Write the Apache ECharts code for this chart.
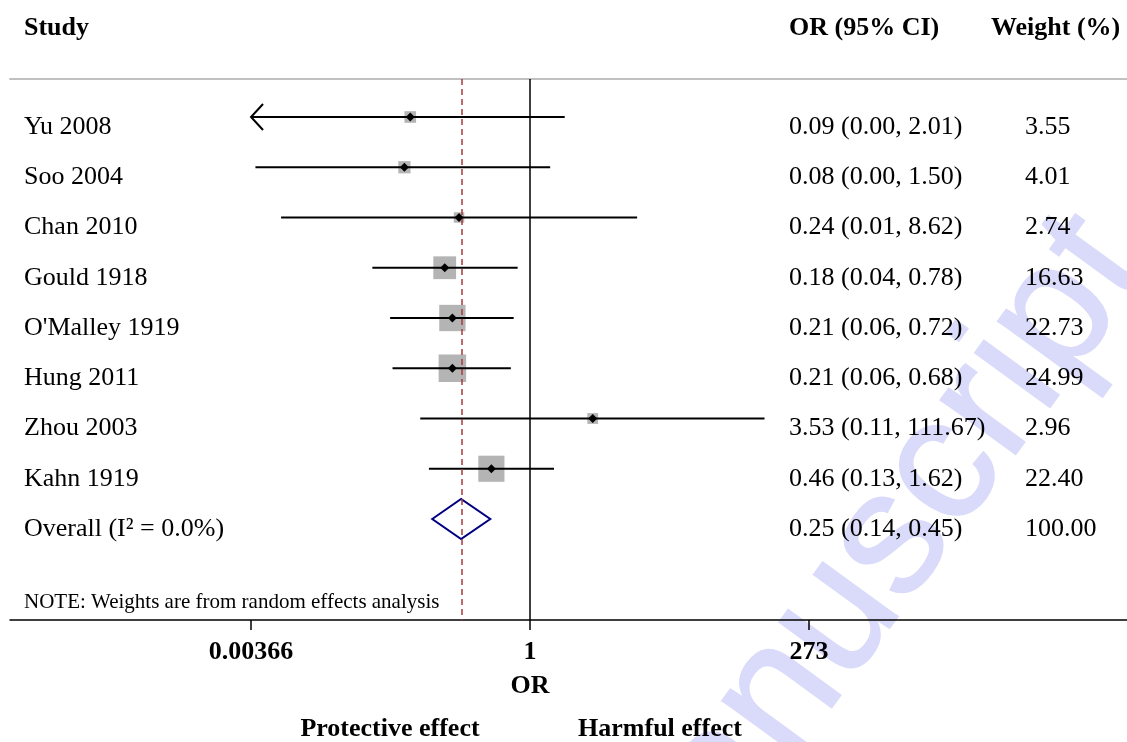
<!DOCTYPE html>
<html><head><meta charset="utf-8">
<script src="https://cdn.jsdelivr.net/npm/echarts@6/dist/echarts.min.js"></script>
<style>html,body{margin:0;padding:0;background:#fff}#c{width:1127px;height:742px}</style>
</head><body><div id="c"></div>
<script>
// ---- data ----
const studies   = ['Yu 2008','Soo 2004','Chan 2010','Gould 1918',"O'Malley 1919",'Hung 2011','Zhou 2003','Kahn 1919'];
const orValues  = [0.09, 0.08, 0.24, 0.18, 0.21, 0.21, 3.53, 0.46];
const ciLower   = [0.002, 0.0040, 0.0067, 0.042, 0.06, 0.063, 0.11, 0.131];
const ciUpper   = [2.01, 1.50, 8.62, 0.78, 0.72, 0.68, 111.67, 1.62];
const weights   = [3.55, 4.01, 2.74, 16.63, 22.73, 24.99, 2.96, 22.40];
const overallLabel  = 'Overall (I² = 0.0%)';
const overallOR     = [0.25];
const overallCI     = [0.14, 0.45];
const overallWeight = [100.00];
const tickValues = [0.00366, 1, 273];
const tickLabels = ['0.00366', '1', '273'];

// ---- helpers ----
const L = Math.log10;
const fmt = v => v.toFixed(2);
const SERIF = '"Liberation Serif","Times New Roman",Times,serif';
const overallRow = studies.length;
const axisMinLog = L(tickValues[0]);

const studyData = studies.map((s, i) => [i, L(orValues[i]), L(ciLower[i]), L(ciUpper[i]), weights[i]]);
const overallData = [[overallRow, L(overallOR[0]), L(overallCI[0]), L(overallCI[1])]];
const labelRows = studies.concat([overallLabel]);
const orTexts = studies.map((s, i) => `${fmt(orValues[i])} (${fmt(ciLower[i])}, ${fmt(ciUpper[i])})`)
  .concat([`${fmt(overallOR[0])} (${fmt(overallCI[0])}, ${fmt(overallCI[1])})`]);
const wTexts = weights.map(fmt).concat([fmt(overallWeight[0])]);
const rowIdx = labelRows.map((s, i) => [0, i]);

function renderStudy(params, api) {
  const row = api.value(0), est = api.value(1), lo = api.value(2), hi = api.value(3), w = api.value(4);
  const loC = Math.max(lo, axisMinLog);
  const pLo = api.coord([loC, row]), pHi = api.coord([hi, row]), pE = api.coord([est, row]);
  const side = 2 + 5.1 * Math.sqrt(w);
  const ch = [];
  ch.push({type: 'rect', shape: {x: pE[0] - side / 2, y: pE[1] - side / 2, width: side, height: side}, style: {fill: '#b4b4b4'}});
  ch.push({type: 'line', shape: {x1: pLo[0], y1: pLo[1], x2: pHi[0], y2: pHi[1]}, style: {stroke: '#000', lineWidth: 2}});
  if (lo < loC) {
    ch.push({type: 'polyline', shape: {points: [[pLo[0] + 12, pLo[1] - 13], [pLo[0], pLo[1]], [pLo[0] + 12, pLo[1] + 13]]},
      style: {stroke: '#000', lineWidth: 2, fill: null}});
  }
  const d = 4.5;
  ch.push({type: 'polygon', shape: {points: [[pE[0] - d, pE[1]], [pE[0], pE[1] - d], [pE[0] + d, pE[1]], [pE[0], pE[1] + d]]}, style: {fill: '#000'}});
  return {type: 'group', children: ch};
}
function renderOverall(params, api) {
  const row = api.value(0), est = api.value(1), lo = api.value(2), hi = api.value(3);
  const pLo = api.coord([lo, row]), pHi = api.coord([hi, row]), pE = api.coord([est, row]);
  const h = 20;
  return {type: 'polygon', shape: {points: [[pLo[0], pLo[1]], [pE[0], pE[1] - h], [pHi[0], pHi[1]], [pE[0], pE[1] + h]]},
    style: {stroke: '#000080', lineWidth: 2, fill: null}};
}
function textRenderer(texts, xPix) {
  return function (params, api) {
    const p = api.coord([0, api.value(1)]);
    return {type: 'text', x: xPix, y: p[1] + 10,
      style: {text: texts[params.dataIndex], font: '26px ' + SERIF, fill: '#000', align: 'left', verticalAlign: 'middle'}};
  };
}

const chart = echarts.init(document.getElementById('c'), null, {renderer: 'canvas'});
const tickLog = tickValues.map(L);
const option = {
  animation: false,
  backgroundColor: '#fff',
  grid: {left: 10, right: 0, top: 79, bottom: 122, containLabel: false},
  xAxis: [{
    type: 'value', min: -4.5415, max: 5.214, position: 'bottom',
    axisLine: {show: true, onZero: false, lineStyle: {color: '#000', width: 1.5}},
    axisTick: {show: true, customValues: tickLog, length: 10, inside: false, lineStyle: {color: '#000', width: 1.5}},
    axisLabel: {show: true, customValues: tickLog, margin: 19, color: '#000', fontFamily: SERIF, fontWeight: 'bold', fontSize: 26,
      formatter: v => { const k = tickLog.findIndex(t => Math.abs(t - v) < 1e-6); return k >= 0 ? tickLabels[k] : ''; }},
    splitLine: {show: false}
  }, {
    type: 'value', min: -4.5415, max: 5.214, position: 'top',
    axisLine: {show: true, onZero: false, lineStyle: {color: '#c0c0c0', width: 2}},
    axisTick: {show: false}, axisLabel: {show: false}, splitLine: {show: false}
  }],
  yAxis: {type: 'value', inverse: true, min: -0.756, max: 10.01, show: false},
  series: [
    {type: 'custom', name: 'null', data: [], renderItem: () => null, z: 3,
      markLine: {silent: true, symbol: ['none', 'none'], label: {show: false},
        lineStyle: {color: '#000', width: 1.5, type: 'solid'}, data: [{xAxis: 0}]}},
    {type: 'custom', name: 'overall line', data: [], renderItem: () => null, z: 3,
      markLine: {silent: true, symbol: ['none', 'none'], label: {show: false},
        lineStyle: {color: '#a83a3e', width: 1.5, type: [6, 4]}, data: [{xAxis: L(overallOR[0])}]}},
    {type: 'custom', name: 'studies', data: studyData, renderItem: renderStudy, z: 4, clip: false},
    {type: 'custom', name: 'overall', data: overallData, renderItem: renderOverall, z: 4, clip: false},
    {type: 'custom', name: 'study labels', data: rowIdx, renderItem: textRenderer(labelRows, 24), z: 5, clip: false},
    {type: 'custom', name: 'or labels', data: rowIdx, renderItem: textRenderer(orTexts, 789), z: 5, clip: false},
    {type: 'custom', name: 'weight labels', data: rowIdx, renderItem: textRenderer(wTexts, 1025), z: 5, clip: false}
  ],
  graphic: [
    {type: 'text', z: -10, x: 1113, y: 238, rotation: 54 * Math.PI / 180, silent: true,
      style: {text: 'manuscript', font: '176px "Liberation Sans",Arial,sans-serif', fill: '#dadafa',
        stroke: '#dadafa', lineWidth: 1.5, align: 'right', verticalAlign: 'middle'}},
    {type: 'text', x: 24, y: 28, style: {text: 'Study', font: 'bold 26px ' + SERIF, fill: '#000', verticalAlign: 'middle'}},
    {type: 'text', x: 789, y: 28, style: {text: 'OR (95% CI)', font: 'bold 26px ' + SERIF, fill: '#000', verticalAlign: 'middle'}},
    {type: 'text', x: 991, y: 28, style: {text: 'Weight (%)', font: 'bold 26px ' + SERIF, fill: '#000', verticalAlign: 'middle'}},
    {type: 'text', x: 24, y: 602, style: {text: 'NOTE: Weights are from random effects analysis', font: '21px ' + SERIF, fill: '#000', verticalAlign: 'middle'}},
    {type: 'text', x: 530, y: 686, style: {text: 'OR', font: 'bold 26px ' + SERIF, fill: '#000', align: 'center', verticalAlign: 'middle'}},
    {type: 'text', x: 390, y: 729, style: {text: 'Protective effect', font: 'bold 26px ' + SERIF, fill: '#000', align: 'center', verticalAlign: 'middle'}},
    {type: 'text', x: 660, y: 729, style: {text: 'Harmful effect', font: 'bold 26px ' + SERIF, fill: '#000', align: 'center', verticalAlign: 'middle'}}
  ]
};
chart.setOption(option);
</script>
</body></html>
